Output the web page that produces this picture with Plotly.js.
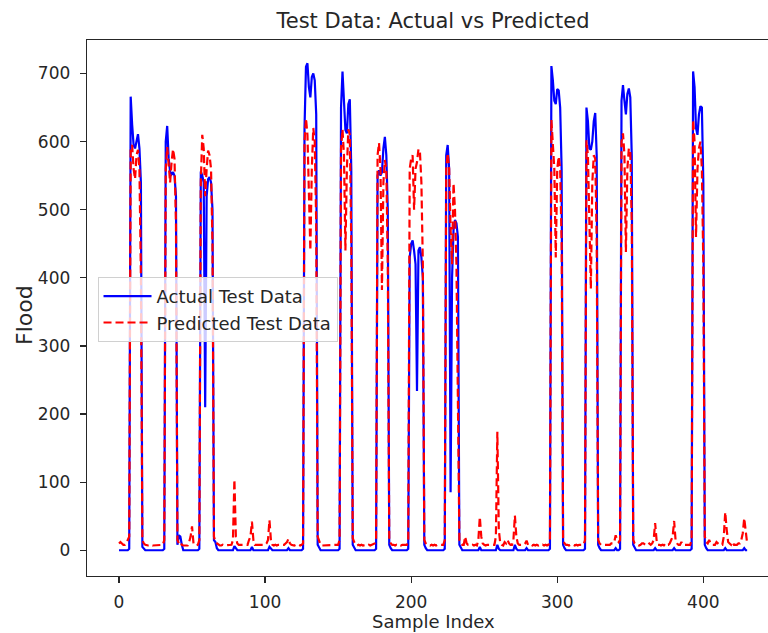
<!DOCTYPE html>
<html>
<head>
<meta charset="utf-8">
<script src="https://cdn.plot.ly/plotly-3.0.1.min.js"></script>
<style>
html, body { margin: 0; padding: 0; overflow: hidden; background: #fff; }
#chart { width: 800px; height: 633px; }
</style>
</head>
<body>
<div id="chart"></div>
<script>
// Sample Index 0..430
const actualTestData = [
0,0,0,0,0,0,0,2,666,625,
595,590,600,611,590,540,5,2,0,0,
0,0,0,0,0,0,0,0,0,0,
0,2,600,623,575,556,552,555,550,520,
8,22,20,8,0,0,0,0,0,0,
0,0,0,0,0,2,556,550,540,210,
520,545,548,540,500,15,12,3,0,0,
0,0,0,0,0,0,0,0,0,6,
2,0,0,0,0,0,0,0,0,0,
0,5,0,0,0,0,0,0,0,0,
0,0,0,5,2,0,0,0,0,0,
0,0,0,0,0,0,3,0,0,0,
0,0,0,0,0,0,2,620,710,715,
680,665,695,700,690,640,8,3,0,0,
0,0,0,0,0,0,0,0,0,0,
0,2,650,703,660,617,612,655,662,560,
8,3,0,0,0,0,0,0,0,0,
0,0,0,0,0,0,2,550,558,550,
555,590,607,580,500,8,3,0,0,0,
0,0,0,0,0,0,0,0,2,430,
450,455,440,420,234,440,445,430,400,8,
3,0,0,0,0,0,0,0,0,0,
0,0,0,2,580,595,560,85,400,470,
485,480,460,8,3,0,0,0,0,0,
0,0,0,0,0,0,0,5,0,0,
0,0,0,0,0,0,0,0,0,8,
2,0,0,0,0,0,0,0,0,0,
0,8,2,0,0,0,0,0,0,3,
0,0,0,0,0,0,0,0,0,0,
0,0,0,0,0,2,711,690,660,655,
677,675,650,560,8,3,0,0,0,0,
0,0,0,0,0,0,0,0,0,2,
650,630,590,588,600,630,642,580,8,3,
0,0,0,0,0,0,0,0,0,0,
3,0,0,2,660,683,660,640,670,678,
665,580,8,3,0,0,0,0,0,0,
0,0,0,0,0,0,0,3,0,0,
0,0,0,0,0,0,0,0,0,0,
3,0,0,0,0,0,0,0,0,0,
0,0,2,703,680,620,610,640,652,650,
540,8,3,0,0,0,0,0,0,0,
0,0,0,0,0,3,0,0,0,0,
0,0,0,0,0,0,0,0,3,0,
0
];
const predictedTestData = [
10,12,10,8,8,10,15,20,590,595,
560,545,580,588,560,400,15,10,8,7,
7,7,8,7,7,8,7,7,8,8,
8,15,560,592,560,540,570,589,575,480,
15,10,12,8,7,7,8,7,12,20,
35,10,8,7,8,15,540,610,590,520,
560,587,580,560,450,20,12,10,8,7,
7,8,7,7,8,7,8,8,15,104,
20,10,8,8,7,8,8,7,8,15,
20,42,15,8,8,7,8,7,8,8,
8,10,15,44,15,8,7,8,7,8,
8,7,8,8,10,12,17,10,8,7,
7,8,7,8,7,8,10,600,634,610,
520,440,560,620,600,480,20,12,8,7,
7,8,7,8,7,8,7,7,8,8,
8,15,590,618,580,440,560,618,610,450,
18,12,8,7,8,7,8,7,8,8,
7,8,7,8,8,10,15,580,598,560,
382,540,573,560,420,15,10,8,8,7,
8,7,8,7,8,8,7,8,15,560,
575,580,500,560,570,589,585,540,420,15,
10,8,8,7,8,7,8,7,8,8,
7,8,8,15,560,583,560,470,420,539,
500,420,200,15,10,8,8,20,10,8,
8,7,8,7,8,7,15,49,20,10,
8,7,8,8,7,8,8,8,20,174,
30,10,8,7,12,10,15,10,8,8,
15,51,20,10,8,8,7,8,10,14,
8,7,8,7,8,7,8,7,8,7,
8,7,8,7,8,15,632,600,560,430,
560,578,560,450,15,10,8,8,7,8,
7,8,7,8,7,8,8,7,8,15,
602,580,500,384,540,580,575,460,15,10,
8,8,7,8,7,8,8,10,10,12,
22,15,12,15,600,612,580,438,560,590,
585,480,15,10,8,8,7,8,10,10,
8,7,8,10,8,10,15,40,15,8,
8,7,8,7,10,8,8,10,15,20,
43,15,10,8,8,12,8,8,7,8,
8,8,15,632,600,460,560,590,600,560,
420,20,12,10,15,10,8,8,8,12,
10,8,8,8,20,56,30,12,10,8,
12,8,8,8,10,10,15,25,47,30,
10
];
const sampleIndex = actualTestData.map((_, i) => i);
const xTicks = [0, 100, 200, 300, 400];
const yTicks = [0, 100, 200, 300, 400, 500, 600, 700];

const FONT = '"DejaVu Sans", Verdana, sans-serif';
const INK = '#262626';

const traces = [
  {
    x: sampleIndex, y: actualTestData, type: 'scatter', mode: 'lines',
    name: 'Actual Test Data',
    line: { color: '#0000ff', width: 2.2 }
  },
  {
    x: sampleIndex, y: predictedTestData, type: 'scatter', mode: 'lines',
    name: 'Predicted Test Data',
    line: { color: '#ff0000', width: 2.2, dash: '8px,4px' }
  }
];

const axisCommon = {
  showline: true, mirror: true, linecolor: INK, linewidth: 1.3,
  ticks: 'outside', ticklen: 6, tickwidth: 1.3, tickcolor: INK,
  showgrid: false, zeroline: false,
  tickfont: { family: FONT, size: 17, color: INK }
};

const layout = {
  width: 800, height: 633,
  margin: { l: 87, r: 21, t: 40, b: 57 },
  paper_bgcolor: '#ffffff', plot_bgcolor: '#ffffff',
  showlegend: true,
  title: {
    text: 'Test Data: Actual vs Predicted',
    font: { family: FONT, size: 21, color: INK },
    x: 0.5, xref: 'paper', xanchor: 'center',
    y: 0.968, yref: 'container', yanchor: 'middle'
  },
  xaxis: Object.assign({}, axisCommon, {
    range: [-21.9, 451.8],
    tickvals: xTicks, ticktext: xTicks.map(String),
    ticklabelstandoff: 4
  }),
  yaxis: Object.assign({}, axisCommon, {
    range: [-37.8, 749.2],
    tickvals: yTicks, ticktext: yTicks.map(String),
    ticklabelstandoff: 6
  }),
  legend: {
    x: 0.0152, y: 0.558, xanchor: 'left', yanchor: 'top',
    bgcolor: 'rgba(255,255,255,0.8)', bordercolor: '#d0d0d0', borderwidth: 1,
    font: { family: FONT, size: 18, color: INK },
    itemwidth: 48,
    tracegroupgap: 0
  },
  annotations: [
    {
      text: 'Flood', xref: 'paper', yref: 'paper',
      x: -0.0896, y: 0.487, xanchor: 'center', yanchor: 'middle',
      textangle: -90, showarrow: false,
      font: { family: FONT, size: 22, color: INK }
    },
    {
      text: 'Sample Index', xref: 'paper', yref: 'paper',
      x: 0.5, y: -0.0858, xanchor: 'center', yanchor: 'middle',
      showarrow: false,
      font: { family: FONT, size: 18, color: INK }
    }
  ]
};

Plotly.newPlot('chart', traces, layout, { displayModeBar: false, responsive: false, staticPlot: true });
</script>
</body>
</html>
